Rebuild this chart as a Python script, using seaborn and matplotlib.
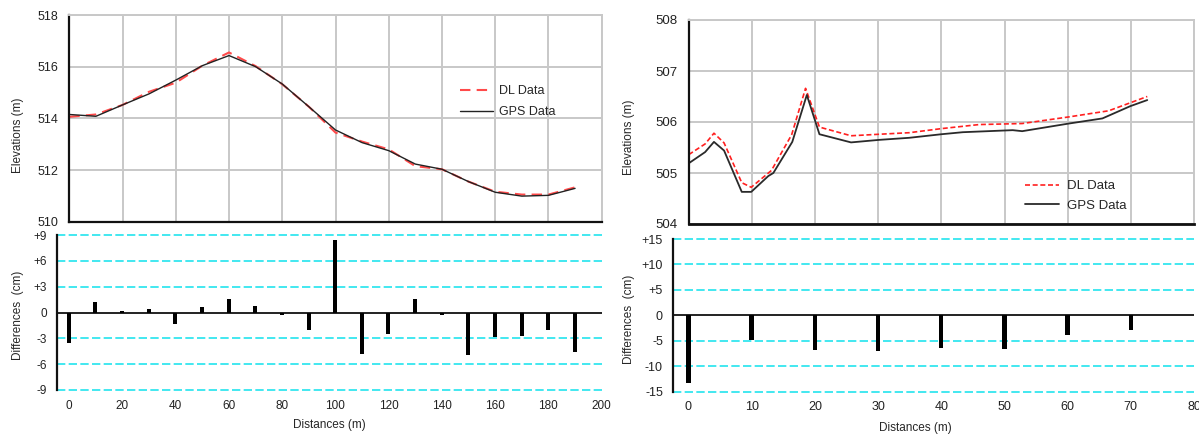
import numpy as np
import pandas as pd
import seaborn as sns
import matplotlib
matplotlib.use('Agg')
import matplotlib.pyplot as plt

# left profile (0-190 m)
dist_a = [0, 10, 20, 30, 40, 50, 60, 70, 80, 90, 100, 110, 120, 130, 140, 150, 160, 170, 180, 190]
gps_a = [514.15, 514.08, 514.52, 514.95, 515.48, 516.04, 516.43, 516.0, 515.33, 514.45,
         513.55, 513.06, 512.75, 512.23, 512.03, 511.55, 511.14, 510.99, 511.02, 511.29]
dl_a = [514.06, 514.15, 514.52, 515.03, 515.38, 516.04, 516.55, 516.02, 515.32, 514.45,
        513.45, 513.1, 512.8, 512.15, 512.03, 511.55, 511.16, 511.05, 511.05, 511.33]
diff_a = [-3.5, 1.2, 0.2, 0.4, -1.35, 0.6, 1.55, 0.77, -0.27, -2.05,
          8.4, -4.8, -2.5, 1.55, -0.27, -4.9, -2.9, -2.75, -2.05, -4.57]

# right profile (0-73 m)
gps_b_x = [0, 2.6, 4.0, 5.6, 8.4, 9.9, 12.6, 13.4, 16.4, 18.7, 20.7, 25.7, 30.2, 34.9,
           40.0, 43.4, 51.3, 52.8, 60.2, 65.5, 69.9, 72.6]
gps_b = [505.19, 505.41, 505.61, 505.44, 504.63, 504.63, 504.94, 505.0, 505.61, 506.53,
         505.76, 505.60, 505.65, 505.69, 505.76, 505.80, 505.84, 505.82, 505.97, 506.07,
         506.31, 506.43]
dl_b_x = [0, 2.6, 4.0, 5.6, 8.4, 9.9, 13.1, 16.3, 18.5, 20.7, 25.7, 30.2, 34.9, 40.0,
          46.0, 52.8, 60.2, 66.5, 72.6]
dl_b = [505.36, 505.57, 505.78, 505.59, 504.81, 504.72, 505.05, 505.75, 506.66, 505.90,
        505.73, 505.76, 505.79, 505.87, 505.95, 505.97, 506.10, 506.22, 506.50]
dist_b = [0, 10, 20, 30, 40, 50, 60, 70]
diff_b = [-13.3, -4.9, -6.75, -6.95, -6.35, -6.6, -3.86, -2.8]

sns.set_style('white')
plt.rcParams['font.family'] = ['Liberation Sans', 'DejaVu Sans']

W, H = 1199, 434
fig = plt.figure(figsize=(W / 100, H / 100), dpi=100)


def rect(x0, y0, x1, y1):
    return [x0 / W, 1 - y1 / H, (x1 - x0) / W, (y1 - y0) / H]


GRID = '#c8c8c8'
CYAN = '#22e4ee'


def top_panel(ax, xlim, xstep, ylim, ystep, tsize):
    ax.set_xlim(*xlim)
    ax.set_ylim(*ylim)
    ax.set_xticks(np.arange(xlim[0], xlim[1] + 0.1, xstep))
    ax.set_yticks(np.arange(ylim[0], ylim[1] + 0.1, ystep))
    ax.set_xticklabels([])
    ax.grid(True, color=GRID, lw=1.4)
    ax.set_axisbelow(True)
    for s in ['top', 'right']:
        ax.spines[s].set_color(GRID)
        ax.spines[s].set_linewidth(1.4)
    for s in ['left', 'bottom']:
        ax.spines[s].set_color('#111111')
        ax.spines[s].set_linewidth(1.6)
    ax.tick_params(length=0, labelsize=tsize, pad=8, colors='#222222')
    ax.set_xlabel('')


def diff_panel(ax, xlim, xticks, lim, step, tsize):
    ax.set_xlim(*xlim)
    ax.set_ylim(-lim, lim)
    ticks = np.arange(-lim, lim + 0.1, step)
    ax.set_yticks(ticks)
    ax.set_yticklabels(['+%d' % t if t > 0 else '%d' % t for t in ticks])
    ax.set_xticks(xticks)
    ax.set_xticklabels(['%d' % t for t in xticks])
    for t in ticks:
        if t != 0:
            ax.axhline(t, color=CYAN, lw=1.2, ls=(0, (5, 2)), zorder=0, clip_on=False)
    ax.axhline(0, color='#111111', lw=1.3, zorder=3)
    for s in ['top', 'right', 'bottom']:
        ax.spines[s].set_visible(False)
    ax.spines['left'].set_color('#111111')
    ax.spines['left'].set_linewidth(1.6)
    ax.tick_params(length=0, labelsize=tsize, pad=7, colors='#222222')


# ---- left top
ax1 = fig.add_axes(rect(69.3, 15, 601.7, 221.7))
sns.lineplot(x=dist_a, y=dl_a, ax=ax1, color='#ff4a4a', lw=1.5, sort=False, label='DL Data')
sns.lineplot(x=dist_a, y=gps_a, ax=ax1, color='#222222', lw=1.0, sort=False, label='GPS Data')
ax1.lines[0].set_dashes((5, 3))
top_panel(ax1, (0, 200), 20, (510, 518), 2, 9)
ax1.set_ylabel('Elevations (m)', fontsize=8.5)
ax1.yaxis.set_label_coords(-0.085, 0.42)
ax1.legend(loc='upper left', bbox_to_anchor=(460 / W, 1 - 85 / H), bbox_transform=fig.transFigure,
           frameon=False, fontsize=9, handlelength=2.6, handletextpad=0.5, borderpad=0,
           borderaxespad=0, labelspacing=0.72)

# ---- left bottom
ax2 = fig.add_axes(rect(56.7, 235, 601.7, 390))
sns.barplot(x=dist_a, y=diff_a, ax=ax2, native_scale=True, width=0.15, color='black',
            saturation=1, errorbar=None, zorder=4, edgecolor='black', linewidth=0)
diff_panel(ax2, (-4.5, 200), list(range(0, 201, 20)), 9, 3, 8.5)
ax2.set_ylabel('Differences  (cm)', fontsize=8.5)
ax2.yaxis.set_label_coords(-0.060, 0.479)
ax2.set_xlabel('Distances (m)', fontsize=8.5)
ax2.xaxis.set_label_coords(0.501, -0.19)

# ---- right top
ax3 = fig.add_axes(rect(688.7, 20, 1194, 224))
sns.lineplot(x=dl_b_x, y=dl_b, ax=ax3, color='#ff2020', lw=1.2, sort=False, label='DL Data')
sns.lineplot(x=gps_b_x, y=gps_b, ax=ax3, color='#2a2a2a', lw=1.3, sort=False, label='GPS Data')
ax3.lines[0].set_dashes((3, 1.6))
top_panel(ax3, (0, 80), 10, (504, 508), 1, 9.5)
ax3.spines['bottom'].set_linewidth(2)
ax3.set_ylabel('Elevations (m)', fontsize=8.5)
ax3.yaxis.set_label_coords(-0.106, 0.424)
ax3.legend(loc='upper left', bbox_to_anchor=(1025 / W, 1 - 180 / H), bbox_transform=fig.transFigure,
           frameon=False, fontsize=9.5, handlelength=2.6, handletextpad=0.6, borderpad=0,
           borderaxespad=0, labelspacing=0.55)

# ---- right bottom
ax4 = fig.add_axes(rect(672.7, 239, 1194, 391.7))
sns.barplot(x=dist_b, y=diff_b, ax=ax4, native_scale=True, width=0.07, color='black',
            saturation=1, errorbar=None, zorder=4, edgecolor='black', linewidth=0)
diff_panel(ax4, (-2.5, 80), list(range(0, 81, 10)), 15, 5, 9)
ax4.set_ylabel('Differences  (cm)', fontsize=8.5)
ax4.yaxis.set_label_coords(-0.073, 0.476)
ax4.set_xlabel('Distances (m)', fontsize=8.5)
ax4.xaxis.set_label_coords(0.465, -0.2)

fig.savefig('out.png', dpi=100)
